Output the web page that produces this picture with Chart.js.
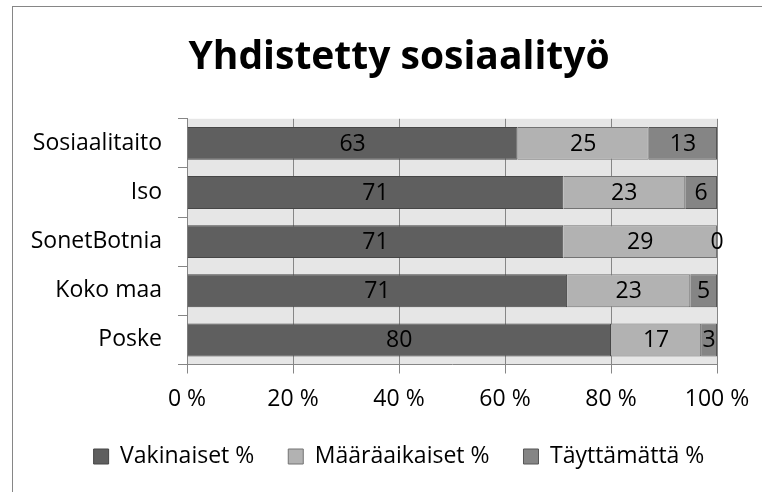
<!DOCTYPE html>
<html>
<head>
<meta charset="utf-8">
<script src="https://cdn.jsdelivr.net/npm/chart.js@4.4.1/dist/chart.umd.min.js"></script>
<style>
    body { margin: 0; background: #fff; overflow: hidden; }
    #box {
        position: absolute; left: 12px; top: 6px;
        width: 800px; height: 500px;
        box-sizing: border-box; border: 1px solid #868686;
    }
    #chart { display: block; }
</style>
</head>
<body>
<div id="box"><canvas id="chart" width="772" height="485"></canvas></div>
<script>
const categories = ["Sosiaalitaito", "Iso", "SonetBotnia", "Koko maa", "Poske"];
const vakinaiset = [63, 71, 71, 71, 80];
const maaraaikaiset = [25, 23, 29, 23, 17];
const tayttamatta = [13, 6, 0, 5, 3];
const xTicks = [0, 20, 40, 60, 80, 100];

// 100 % pinottu: jokainen rivi skaalataan summaansa
const totals = categories.map(function (c, i) {
    return vakinaiset[i] + maaraaikaiset[i] + tayttamatta[i];
});
const pct = function (arr) {
    return arr.map(function (v, i) { return v / totals[i] * 100; });
};

const FONT = "'Open Sans', sans-serif";

const plotBg = {
    id: "plotBg",
    beforeDraw: function (chart) {
        const a = chart.chartArea;
        const ctx = chart.ctx;
        ctx.save();
        ctx.fillStyle = "#e6e6e6";
        ctx.fillRect(a.left, a.top, a.right - a.left, a.bottom - a.top);
        ctx.restore();
    },
};

const valueLabels = {
    id: "valueLabels",
    afterDatasetsDraw: function (chart) {
        const ctx = chart.ctx;
        ctx.save();
        ctx.font = "23px " + FONT;
        ctx.fillStyle = "#000";
        ctx.textAlign = "center";
        ctx.textBaseline = "middle";
        chart.data.datasets.forEach(function (ds, di) {
            const meta = chart.getDatasetMeta(di);
            meta.data.forEach(function (bar, i) {
                const x = (bar.x + bar.base) / 2;
                ctx.fillText(String(ds.raw[i]), x, bar.y + 1);
            });
        });
        ctx.restore();
    },
};

const ctx = document.getElementById("chart").getContext("2d");
const chart = new Chart(ctx, {
    type: "bar",
    data: {
        labels: categories,
        datasets: [
            {
                label: "Vakinaiset %",
                data: pct(vakinaiset),
                raw: vakinaiset,
                backgroundColor: "#5f5f5f",
                borderColor: "#464646",
                borderWidth: 1,
            },
            {
                label: "Määräaikaiset %",
                data: pct(maaraaikaiset),
                raw: maaraaikaiset,
                backgroundColor: "#b2b2b2",
                borderColor: "#737373",
                borderWidth: 1,
            },
            {
                label: "Täyttämättä %",
                data: pct(tayttamatta),
                raw: tayttamatta,
                backgroundColor: "#858585",
                borderColor: "#555555",
                borderWidth: 1,
            },
        ],
    },
    options: {
        indexAxis: "y",
        responsive: false,
        animation: false,
        layout: { padding: { left: 0, right: 0, top: 0, bottom: 14 } },
        datasets: {
            bar: { barPercentage: 0.67, categoryPercentage: 1 },
        },
        plugins: {
            title: {
                display: true,
                text: "Yhdistetty sosiaalityö",
                color: "#000",
                font: { family: FONT, size: 39, weight: "bold" },
                padding: { top: 27, bottom: 38 },
            },
            legend: {
                position: "bottom",
                labels: {
                    color: "#000",
                    font: { family: FONT, size: 23 },
                    boxWidth: 15,
                    boxHeight: 15,
                    padding: 34,
                },
            },
            tooltip: { enabled: false },
        },
        scales: {
            x: {
                stacked: true,
                min: 0,
                max: 100,
                afterBuildTicks: function (scale) {
                    scale.ticks = xTicks.map(function (v) { return { value: v }; });
                },
                afterFit: function (scale) { scale.height = 46.5; },
                ticks: {
                    color: "#000",
                    font: { family: FONT, size: 23 },
                    padding: 12,
                    maxRotation: 0,
                    callback: function (v) { return v + " %"; },
                },
                grid: { color: "#868686", tickLength: 9 },
                border: { color: "#868686" },
            },
            y: {
                stacked: true,
                afterFit: function (scale) { scale.width = 174; },
                ticks: {
                    color: "#000",
                    font: { family: FONT, size: 23 },
                    padding: 16,
                },
                grid: {
                    offset: true,
                    drawOnChartArea: false,
                    color: "#868686",
                    tickLength: 9,
                },
                border: { color: "#868686" },
            },
            // tyhjä oikea akseli pitää kuvaajan keskellä laatikkoa
            yRight: {
                type: "category",
                position: "right",
                afterFit: function (scale) { scale.width = 68; },
                ticks: { display: false },
                grid: { display: false },
                border: { display: false },
            },
        },
    },
    plugins: [plotBg, valueLabels],
});
</script>
</body>
</html>
